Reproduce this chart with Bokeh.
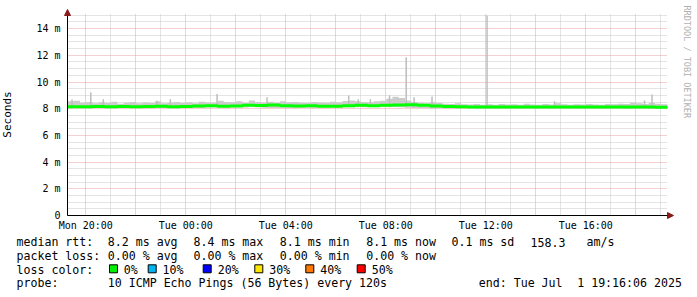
import math
import pandas as pd
from bokeh.plotting import figure
from bokeh.models import Range1d, FixedTicker, Arrow, NormalHead, Label, CustomJSTickFormatter
from bokeh.core.properties import value
from bokeh.embed import file_html
from bokeh.resources import INLINE

# ---------------- data ----------------
START = "2025-06-30 19:16:06"
END = "2025-07-01 19:16:06"

# median RTT (ms), one value per 30 minutes
median_ms = [8.15, 8.14, 8.16, 8.15, 8.17, 8.15, 8.16, 8.18, 8.15, 8.17,
             8.20, 8.22, 8.18, 8.21, 8.25, 8.24, 8.27, 8.22, 8.20, 8.22,
             8.18, 8.19, 8.22, 8.25, 8.23, 8.26, 8.28, 8.30, 8.26, 8.20,
             8.16, 8.14, 8.13, 8.13, 8.12, 8.12, 8.13, 8.12, 8.13, 8.12,
             8.13, 8.12, 8.12, 8.13, 8.12, 8.12, 8.12, 8.11]

# smoke (spread of the pings), one value per 15 minutes
smoke_hi_ms = [8.55, 8.60, 8.45, 8.50, 8.40, 8.48, 8.42, 8.52, 8.38, 8.45, 8.50, 8.40, 8.47, 8.43, 8.55, 8.40,
               8.45, 8.50, 8.42, 8.48, 8.40, 8.52, 8.46, 8.44, 8.60, 8.50, 8.48, 8.55, 8.45, 8.62, 8.50, 8.47,
               8.52, 8.45, 8.55, 8.48, 8.50, 8.45, 8.42, 8.50, 8.46, 8.44, 8.52, 8.48, 8.58, 8.62, 8.55, 8.50,
               8.48, 8.55, 8.60, 8.75, 8.90, 8.80, 8.62, 8.50, 8.45, 8.40, 8.48, 8.42, 8.38, 8.35, 8.40, 8.33,
               8.32, 8.35, 8.30, 8.33, 8.30, 8.36, 8.31, 8.34, 8.30, 8.38, 8.32, 8.30, 8.35, 8.31, 8.40, 8.33,
               8.30, 8.34, 8.31, 8.36, 8.32, 8.30, 8.35, 8.33, 8.38, 8.36, 8.45, 8.40, 8.35, 8.42, 8.38, 8.33]
smoke_lo_ms = [8.04, 8.05, 8.03, 8.04, 8.05, 8.06, 8.04, 8.03, 8.05, 8.04, 8.06, 8.05, 8.04, 8.03, 8.05, 8.06,
               8.05, 8.04, 8.06, 8.07, 8.08, 8.06, 8.09, 8.10, 8.08, 8.07, 8.10, 8.11, 8.09, 8.12, 8.10, 8.08,
               8.06, 8.05, 8.07, 8.06, 8.05, 8.08, 8.07, 8.06, 8.08, 8.09, 8.10, 8.08, 8.11, 8.10, 8.12, 8.11,
               8.12, 8.13, 8.15, 8.14, 8.13, 8.10, 8.08, 8.06, 8.04, 8.03, 8.02, 8.03, 8.02, 8.01, 8.02, 8.03,
               8.02, 8.01, 8.02, 8.03, 8.01, 8.02, 8.00, 8.02, 8.01, 8.03, 8.02, 8.01, 8.02, 8.00, 8.01, 8.02,
               8.01, 8.02, 7.99, 8.01, 8.02, 8.00, 8.01, 8.03, 8.02, 8.00, 7.98, 8.01, 8.02, 8.00, 8.01, 8.02]

# isolated slow pings
spike_times = ["2025-06-30 19:27", "2025-06-30 20:12", "2025-06-30 20:42", "2025-06-30 22:51",
               "2025-06-30 23:23", "2025-07-01 01:15", "2025-07-01 03:15", "2025-07-01 06:31",
               "2025-07-01 06:54", "2025-07-01 07:23", "2025-07-01 08:09", "2025-07-01 08:49",
               "2025-07-01 09:08", "2025-07-01 09:51", "2025-07-01 12:03", "2025-07-01 14:45",
               "2025-07-01 18:21", "2025-07-01 18:39"]
spike_top_ms = [8.69, 9.24, 8.70, 8.60, 8.70, 9.10, 8.86, 8.99, 8.70, 8.70,
                9.00, 11.86, 8.86, 8.92, 14.98, 8.56, 8.61, 9.06]

x_tick_times = ["2025-06-30 20:00", "2025-06-30 22:00", "2025-07-01 00:00", "2025-07-01 02:00",
                "2025-07-01 04:00", "2025-07-01 06:00", "2025-07-01 08:00", "2025-07-01 10:00",
                "2025-07-01 12:00", "2025-07-01 14:00", "2025-07-01 16:00", "2025-07-01 18:00"]
x_tick_labels = ["Mon 20:00", "", "Tue 00:00", "", "Tue 04:00", "", "Tue 08:00", "",
                 "Tue 12:00", "", "Tue 16:00", ""]
x_minor_times = ["2025-06-30 21:00", "2025-06-30 23:00", "2025-07-01 01:00", "2025-07-01 03:00",
                 "2025-07-01 05:00", "2025-07-01 07:00", "2025-07-01 09:00", "2025-07-01 11:00",
                 "2025-07-01 13:00", "2025-07-01 15:00", "2025-07-01 17:00", "2025-07-01 19:00"]
y_ticks = [0, 2, 4, 6, 8, 10, 12, 14]
y_tick_labels = ["0", "2 m", "4 m", "6 m", "8 m", "10 m", "12 m", "14 m"]
y_minor_ticks = [0.5, 1, 1.5, 2.5, 3, 3.5, 4.5, 5, 5.5, 6.5, 7, 7.5, 8.5, 9, 9.5,
                 10.5, 11, 11.5, 12.5, 13, 13.5, 14.5, 15]

stats_rtt = ["median rtt:", "8.2 ms avg", "8.4 ms max", "8.1 ms min", "8.1 ms now",
             "0.1 ms sd", "158.3", "am/s"]
stats_loss = ["packet loss:", "0.00 % avg", "0.00 % max", "0.00 % min", "0.00 % now"]
loss_labels = ["0%", "10%", "20%", "30%", "40%", "50%"]
loss_colors = ["#00ee00", "#00b4f0", "#0000ff", "#ffe600", "#ff7800", "#ff0000"]
probe_text = ["probe:", "10 ICMP Echo Pings (56 Bytes) every 120s", "end: Tue Jul", "1 19:16:06 2025"]

# ---------------- layout (pixel geometry of the canvas) ----------------
W, H = 697, 297
MONO = "DejaVu Sans Mono"
t0 = pd.Timestamp(START)
t1 = pd.Timestamp(END)
ms = lambda t: pd.Timestamp(t).value / 1e6
HOUR = 3600 * 1000.0
X0_PX, X1_PX = 67, 667          # canvas x of t0 and t1
Y0_PX, PX_PER_MS = 215, 13.35   # canvas y of 0 ms, pixels per ms
PX_MS = (ms(t1) - ms(t0)) / (X1_PX - X0_PX)
Y_TOP = 15.1


def xd(px):
    return ms(t0) + (px - X0_PX) * PX_MS


def yd(py):
    return (Y0_PX - py) / PX_PER_MS


med_x = list(pd.date_range(t0, periods=len(median_ms), freq="30min")) + [t1]
med_y = median_ms + [median_ms[-1]]
sm_x = list(pd.date_range(t0, periods=len(smoke_hi_ms), freq="15min")) + [t1]
sm_hi = smoke_hi_ms + [smoke_hi_ms[-1]]
sm_lo = smoke_lo_ms + [smoke_lo_ms[-1]]

p = figure(width=W, height=H, x_axis_type="datetime", title=None,
           x_range=Range1d(xd(0), xd(W)), y_range=Range1d(yd(H), yd(0)),
           output_backend="svg", toolbar_location=None,
           min_border=0, min_border_left=0, min_border_right=0,
           min_border_top=0, min_border_bottom=0)
p.outline_line_color = None
p.background_fill_color = "white"
p.border_fill_color = "white"

# ---------------- axes (fixed at t0 / 0 ms) ----------------
xt = [ms(t) for t in x_tick_times]
xm = [ms(t) for t in x_minor_times]
p.xaxis.ticker = FixedTicker(ticks=xt, minor_ticks=xm)
p.xaxis.formatter = CustomJSTickFormatter(args=dict(tvals=xt, tlbls=x_tick_labels), code="""
for (let i = 0; i < tvals.length; i++) { if (Math.abs(tvals[i] - tick) < 1) return tlbls[i]; }
return "";""")
p.yaxis.ticker = FixedTicker(ticks=y_ticks, minor_ticks=y_minor_ticks)
p.yaxis.formatter = CustomJSTickFormatter(args=dict(tvals=y_ticks, tlbls=y_tick_labels), code="""
for (let i = 0; i < tvals.length; i++) { if (Math.abs(tvals[i] - tick) < 1e-6) return tlbls[i]; }
return "";""")
p.xaxis.fixed_location = 0
p.xaxis.bounds = (ms(t0), ms(t1))
p.yaxis.fixed_location = ms(t0)
p.yaxis.bounds = (0, Y_TOP)

for ax in (p.xaxis, p.yaxis):
    ax.axis_line_color = "black"
    ax.major_tick_in = 0
    ax.major_tick_out = 0
    ax.minor_tick_in = 0
    ax.minor_tick_out = 0
    ax.major_label_text_font = MONO
    ax.major_label_text_font_size = "10px"
    ax.major_label_text_color = "black"
p.xaxis.major_label_standoff = 4
p.yaxis.major_label_standoff = 7
p.yaxis.axis_label = "Seconds"
p.yaxis.axis_label_text_font = MONO
p.yaxis.axis_label_text_font_size = "11px"
p.yaxis.axis_label_text_font_style = "normal"
p.yaxis.axis_label_text_color = "black"
p.yaxis.axis_label_standoff = 19

# ---------------- grid, limited to the plotting area ----------------
MAJ_COLOR, MIN_COLOR = "#e8a0a0", "#c8c8c8"
xg, yg = p.xgrid[0], p.ygrid[0]
if "cross_bounds" in xg.properties():
    xg.cross_bounds = (0, Y_TOP)
    yg.cross_bounds = (ms(t0), ms(t1))
    for g in (xg, yg):
        g.grid_line_color = MAJ_COLOR
        g.grid_line_dash = "1 1"
        g.minor_grid_line_color = MIN_COLOR
        g.minor_grid_line_dash = "1 1"
else:
    xg.visible = False
    yg.visible = False
    p.segment(x0=xm, x1=xm, y0=0, y1=Y_TOP, line_color=MIN_COLOR, line_dash="1 1", level="underlay")
    p.segment(x0=ms(t0), x1=ms(t1), y0=y_minor_ticks, y1=y_minor_ticks, line_color=MIN_COLOR,
              line_dash="1 1", level="underlay")
    p.segment(x0=xt, x1=xt, y0=0, y1=Y_TOP, line_color=MAJ_COLOR, line_dash="1 1", level="underlay")
    p.segment(x0=ms(t0), x1=ms(t1), y0=y_ticks[1:], y1=y_ticks[1:], line_color=MAJ_COLOR,
              line_dash="1 1", level="underlay")

# ---------------- data marks ----------------
p.varea_step(x=sm_x, y1=sm_lo, y2=sm_hi, step_mode="after", fill_color="#cccccc")
p.vbar(x=pd.to_datetime(spike_times), width=0.06 * HOUR, bottom=8.1, top=spike_top_ms,
       fill_color="#bdbdbd", line_color=None)
p.step(x=med_x, y=med_y, mode="after", line_color="#00ff00", line_width=3)

# ---------------- axis arrows ----------------
ARROW_COLOR = "#8b1a1a"
p.add_layout(Arrow(x_start=ms(t0), y_start=Y_TOP, x_end=ms(t0), y_end=yd(9),
                   line_color="black", line_width=1,
                   end=NormalHead(size=6, fill_color=ARROW_COLOR, line_color=ARROW_COLOR)))
p.add_layout(Arrow(x_start=ms(t1), y_start=0, x_end=xd(673), y_end=0,
                   line_color="black", line_width=1,
                   end=NormalHead(size=6, fill_color=ARROW_COLOR, line_color=ARROW_COLOR)))

# ---------------- watermark ----------------
p.add_layout(Label(x=xd(686), y=yd(5), text="RRDTOOL / TOBI OETIKER",
                   angle=-math.pi / 2, text_align="left", text_baseline="middle",
                   text_font=MONO, text_font_size="8.5px", text_color="#b0b0b0"))

# ---------------- legend block ----------------
row_y = [241.7, 255.0, 269.3, 282.5]
rtt_x = [16, 107.3, 193, 279.3, 365.7, 451, 530, 586]
loss_x = [16, 107.3, 193, 279.3, 365.7]
box_x = [113, 151.7, 206.7, 258.3, 309.3, 360.7]
box_lbl_x = [123.3, 162, 217.2, 268.8, 319.8, 371.2]
probe_x = [16, 107.3, 478.3, 576.7]

tx, ty, tt = [], [], []
for xs_, txts, yy in ((rtt_x, stats_rtt, row_y[0]), (loss_x, stats_loss, row_y[1]),
                      ([16] + box_lbl_x, ["loss color:"] + loss_labels, row_y[2]),
                      (probe_x, probe_text, row_y[3])):
    tx += [xd(v) for v in xs_]
    ty += [yd(yy)] * len(xs_)
    tt += txts
p.text(x=tx, y=ty, text=tt, text_font=value(MONO), text_font_size="11.6px",
       text_baseline="middle", text_align="left", text_color="black")
p.scatter(x=[xd(v) for v in box_x], y=[yd(row_y[2] - 1)] * len(box_x), marker="square", size=8,
          fill_color=loss_colors, line_color="black", line_width=1)

open("out.html", "w").write(file_html(p, INLINE))
